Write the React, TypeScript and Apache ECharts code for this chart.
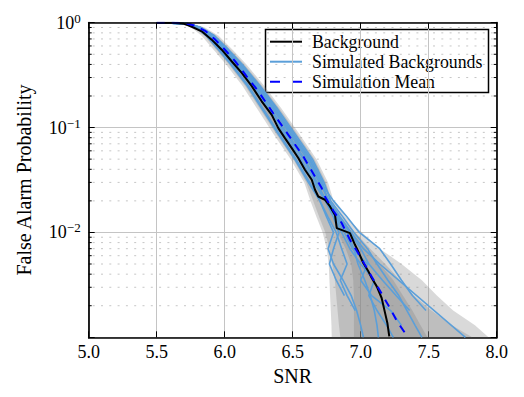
import React, { useEffect, useRef } from "react";
import * as echarts from "echarts";

const SERIF = "'Liberation Serif', 'DejaVu Serif', serif";

// Observed background: false alarm probability vs SNR threshold
const backgroundCurve: [number, number][] = [
  [5.5, 1.0], [5.62, 1.0], [5.7, 0.975], [5.732, 0.944], [5.77, 0.9], [5.831, 0.828],
  [5.904, 0.689], [5.978, 0.553], [6.051, 0.429], [6.125, 0.332], [6.199, 0.248],
  [6.272, 0.178], [6.346, 0.132], [6.394, 0.0987], [6.443, 0.0793], [6.493, 0.0637],
  [6.541, 0.0512], [6.59, 0.0396], [6.64, 0.0318], [6.664, 0.0255], [6.688, 0.022],
  [6.737, 0.0205], [6.774, 0.0177], [6.811, 0.0147], [6.824, 0.011], [6.921, 0.00986],
  [6.958, 0.00762], [6.982, 0.00659], [7.019, 0.00511], [7.056, 0.00426], [7.081, 0.00368],
  [7.118, 0.00306], [7.154, 0.00237], [7.179, 0.00171], [7.196, 0.00137], [7.21, 0.00102],
];

// Mean of the simulated backgrounds
const simulationMean: [number, number][] = [
  [5.5, 1.0], [5.65, 1.0], [5.72, 0.98], [5.78, 0.94], [5.86, 0.83], [5.93, 0.69],
  [6.0, 0.555], [6.076, 0.43], [6.16, 0.31], [6.247, 0.222], [6.357, 0.137],
  [6.468, 0.0853], [6.578, 0.053], [6.664, 0.0341], [6.713, 0.0265], [6.737, 0.022],
  [6.8, 0.016], [6.86, 0.0123], [6.921, 0.0085], [6.98, 0.0064], [7.032, 0.0049],
  [7.08, 0.0038], [7.13, 0.00295], [7.215, 0.0019], [7.27, 0.0014], [7.326, 0.0011],
];

// Probability levels at which each simulated background is sampled
const simLevels = [
  1, 0.98, 0.9, 0.75, 0.55, 0.4, 0.25, 0.15, 0.09, 0.05, 0.03,
  0.02, 0.014, 0.01, 0.007, 0.005, 0.0035, 0.0025, 0.0018, 0.0013, 0.001,
];

// SNR of each simulated background at simLevels (null: no events that far down)
const sim1 = [5.5, 5.705, 5.79, 5.865, 5.955, 6.045, 6.165, 6.275, 6.385, 6.515, 6.615, 6.7, 6.75, 6.8, 6.76, 6.8, 6.87, 6.93, 6.97, 7.0, 7.02];
const sim2 = [5.5, 5.715, 5.8, 5.89, 5.985, 6.08, 6.2, 6.315, 6.43, 6.56, 6.655, 6.74, 6.8, 6.84, 6.8, 6.77, 6.82, 6.88, null, null, null];
const sim3 = [5.5, 5.726, 5.82, 5.915, 6.02, 6.115, 6.245, 6.37, 6.49, 6.625, 6.71, 6.76, 6.83, 6.9, 6.95, 6.98, 7.03, 7.07, 7.1, 7.12, 7.13];
const sim4 = [5.5, 5.718, 5.807, 5.895, 5.994, 6.088, 6.212, 6.33, 6.444, 6.579, 6.67, 6.75, 6.81, 6.86, 6.92, 7.0, 7.1, 7.06, 7.12, 7.19, 7.24];
const sim5 = [5.5, 5.73, 5.825, 5.925, 6.03, 6.13, 6.26, 6.39, 6.51, 6.645, 6.73, 6.78, 6.87, 6.95, 7.05, 7.12, 7.2, 7.28, 7.34, 7.4, 7.45];
const sim6 = [5.5, 5.723, 5.815, 5.908, 6.01, 6.105, 6.232, 6.355, 6.472, 6.607, 6.695, 6.77, 6.85, 6.93, 7.02, 7.14, null, null, null, null, 7.77];
const sim7 = [5.5, 5.728, 5.822, 5.92, 6.024, 6.123, 6.252, 6.38, 6.499, 6.634, 6.72, 6.76, 6.84, 6.92, 7.0, 7.06, 7.16, 7.26, 7.36, null, null];
const sim8 = [5.5, 5.72, 5.81, 5.9, 6.0, 6.095, 6.22, 6.34, 6.455, 6.59, 6.68, 6.74, 6.82, 6.88, 6.94, 7.05, 7.0, 7.08, 7.22, 7.3, null];
const sim9 = [5.5, 5.725, 5.818, 5.91, 6.015, 6.11, 6.24, 6.365, 6.48, 6.62, 6.705, 6.8, 6.9, 6.99, 7.14, 7.22, 7.3, 7.38, 7.48, null, null];
const sim10 = [5.5, 5.71, 5.795, 5.875, 5.965, 6.055, 6.175, 6.285, 6.395, 6.525, 6.625, 6.7, 6.76, 6.82, 6.86, 6.9, 6.85, 6.9, 6.96, null, null];
const simulatedBackgrounds = [sim1, sim2, sim3, sim4, sim5, sim6, sim7, sim8, sim9, sim10];

// Spread of the simulations: left/right SNR edges of three nested bands at simLevels
const outerLeft = [5.5, 5.675, 5.755, 5.83, 5.92, 6.01, 6.13, 6.24, 6.35, 6.485, 6.585, 6.63, 6.675, 6.72, 6.75, 6.765, 6.77, 6.775, 6.78, 6.785, 6.787];
const outerRight = [5.62, 5.76, 5.855, 5.955, 6.06, 6.16, 6.29, 6.42, 6.54, 6.675, 6.76, 6.8, 6.89, 7.01, 7.14, 7.3, 7.45, 7.56, 7.68, 7.84, 7.94];
const middleLeft = [5.5, 5.69, 5.772, 5.85, 5.94, 6.03, 6.15, 6.26, 6.37, 6.505, 6.6, 6.65, 6.695, 6.74, 6.77, 6.79, 6.81, 6.82, 6.83, 6.84, 6.85];
const middleRight = [5.6, 5.745, 5.84, 5.94, 6.045, 6.145, 6.275, 6.405, 6.525, 6.66, 6.745, 6.785, 6.86, 6.96, 7.07, 7.18, 7.29, 7.39, 7.52, 7.67, 7.82];
const innerLeft = [5.5, 5.705, 5.79, 5.87, 5.965, 6.055, 6.175, 6.29, 6.4, 6.535, 6.63, 6.7, 6.76, 6.83, 6.89, 6.93, 6.945, 6.95, 6.95, 6.95, 6.95];
const innerRight = [5.58, 5.731, 5.824, 5.92, 6.023, 6.121, 6.249, 6.375, 6.493, 6.628, 6.715, 6.77, 6.85, 6.94, 7.04, 7.14, 7.24, 7.31, 7.38, 7.44, 7.49];

// Minor log ticks (2..9 per decade)
const minorLevels = [
  0.002, 0.003, 0.004, 0.005, 0.006, 0.007, 0.008, 0.009,
  0.02, 0.03, 0.04, 0.05, 0.06, 0.07, 0.08, 0.09,
  0.2, 0.3, 0.4, 0.5, 0.6, 0.7, 0.8, 0.9,
];

const legendLabels = ["Background", "Simulated Backgrounds", "Simulation Mean"];

const SIM_BLUE = "#5b9fd9";
const MEAN_BLUE = "#0000ff";
const BAND_FILL = "rgba(128,128,128,0.3)";

function toPairs(xs: (number | null)[]): [number, number][] {
  const out: [number, number][] = [];
  xs.forEach((x, i) => {
    if (x !== null) out.push([x, simLevels[i]]);
  });
  return out;
}

function bandSeries(left: number[], right: number[]) {
  return {
    type: "custom",
    silent: true,
    z: 2,
    data: [[5, 1]],
    renderItem: (_params: any, api: any) => {
      const pts: number[][] = [];
      simLevels.forEach((p, i) => pts.push(api.coord([left[i], p])));
      for (let i = simLevels.length - 1; i >= 0; i--) pts.push(api.coord([right[i], simLevels[i]]));
      return { type: "polygon", shape: { points: pts }, style: { fill: BAND_FILL } };
    },
  };
}

export default function App() {
  const ref = useRef<HTMLDivElement>(null);

  useEffect(() => {
    if (!ref.current) return;
    const chart = echarts.init(ref.current, undefined, { renderer: "svg" });

    const spine = { show: true, onZero: false, lineStyle: { color: "#000", width: 1.7 } };
    const majorTick = { show: true, inside: true, length: 6, lineStyle: { color: "#000", width: 1 } };

    const option: any = {
      animation: false,
      backgroundColor: "#ffffff",
      textStyle: { fontFamily: SERIF },
      grid: { left: 88.7, right: 27.3, top: 22.7, bottom: 59.7 },
      xAxis: [
        {
          type: "value",
          min: 5,
          max: 8,
          interval: 0.5,
          position: "bottom",
          axisLine: spine,
          axisTick: majorTick,
          axisLabel: {
            formatter: (v: number) => v.toFixed(1),
            fontSize: 18,
            fontFamily: SERIF,
            color: "#000",
            margin: 6,
          },
          splitLine: { show: true, lineStyle: { color: "#c4c4c4", width: 1 } },
          name: "SNR",
          nameLocation: "middle",
          nameGap: 27,
          nameTextStyle: { fontSize: 20, fontFamily: SERIF, color: "#000" },
        },
        {
          type: "value",
          min: 5,
          max: 8,
          interval: 0.5,
          position: "top",
          z: 10,
          axisLine: spine,
          axisTick: majorTick,
          axisLabel: { show: false },
          splitLine: { show: false },
        },
      ],
      yAxis: [
        {
          type: "log",
          logBase: 10,
          min: 0.001,
          max: 1,
          position: "left",
          axisLine: spine,
          axisTick: majorTick,
          axisLabel: {
            margin: 8,
            fontFamily: SERIF,
            formatter: (v: number) => {
              const e = Math.round(Math.log10(v));
              if (e < -2) return "";
              return `{b|10}{s|${e === 0 ? "0" : "\u2212" + -e}}`;
            },
            rich: {
              b: { fontSize: 18, fontFamily: SERIF, color: "#000", lineHeight: 22 },
              s: { fontSize: 13, fontFamily: SERIF, color: "#000", verticalAlign: "top" },
            },
          },
          splitLine: { show: true, lineStyle: { color: "#c4c4c4", width: 1 } },
          name: "False Alarm Probability",
          nameLocation: "middle",
          nameGap: 55,
          nameTextStyle: { fontSize: 20, fontFamily: SERIF, color: "#000" },
        },
        {
          type: "log",
          logBase: 10,
          min: 0.001,
          max: 1,
          position: "right",
          z: 10,
          axisLine: spine,
          axisTick: majorTick,
          axisLabel: { show: false },
          splitLine: { show: false },
        },
      ],
      series: [
        {
          // dotted minor grid with inward minor ticks on both sides
          type: "custom",
          silent: true,
          z: 1,
          clip: false,
          data: minorLevels.map((v) => [5, v]),
          renderItem: (_params: any, api: any) => {
            const v = api.value(1);
            const a = api.coord([5, v]);
            const b = api.coord([8, v]);
            return {
              type: "group",
              children: [
                {
                  type: "line",
                  shape: { x1: a[0] + 4, y1: a[1], x2: b[0] - 4, y2: b[1] },
                  style: { stroke: "#c6c6c6", lineWidth: 1, lineDash: [2, 6.3] },
                },
                {
                  type: "line",
                  shape: { x1: a[0], y1: a[1], x2: a[0] + 3, y2: a[1] },
                  style: { stroke: "#000", lineWidth: 1 },
                },
                {
                  type: "line",
                  shape: { x1: b[0] - 3, y1: b[1], x2: b[0], y2: b[1] },
                  style: { stroke: "#000", lineWidth: 1 },
                },
              ],
            };
          },
        },
        bandSeries(outerLeft, outerRight),
        bandSeries(middleLeft, middleRight),
        bandSeries(innerLeft, innerRight),
        ...simulatedBackgrounds.map((s) => ({
          type: "line",
          name: legendLabels[1],
          data: toPairs(s),
          showSymbol: false,
          symbol: "none",
          z: 3,
          lineStyle: { color: SIM_BLUE, width: 1.6 },
        })),
        {
          type: "line",
          name: legendLabels[0],
          data: backgroundCurve,
          showSymbol: false,
          symbol: "none",
          z: 4,
          lineStyle: { color: "#000", width: 2 },
        },
        {
          type: "line",
          name: legendLabels[2],
          data: simulationMean,
          showSymbol: false,
          symbol: "none",
          z: 5,
          lineStyle: { color: MEAN_BLUE, width: 2, type: [8, 7] },
        },
      ],
      graphic: [
        {
          type: "group",
          z: 100,
          children: [
            {
              type: "rect",
              shape: { x: 265.5, y: 29.5, width: 223, height: 63 },
              style: { fill: "#fff", stroke: "#000", lineWidth: 1.5 },
            },
            {
              type: "line",
              shape: { x1: 270, y1: 41.7, x2: 302, y2: 41.7 },
              style: { stroke: "#000", lineWidth: 2 },
            },
            {
              type: "line",
              shape: { x1: 270, y1: 61.7, x2: 302, y2: 61.7 },
              style: { stroke: SIM_BLUE, lineWidth: 2 },
            },
            {
              type: "line",
              shape: { x1: 270, y1: 81.7, x2: 302, y2: 81.7 },
              style: { stroke: MEAN_BLUE, lineWidth: 2, lineDash: [10, 12] },
            },
            ...legendLabels.map((t, i) => ({
              type: "text",
              style: {
                text: t,
                x: 312,
                y: 41.5 + 20 * i,
                fontSize: 17.8,
                fontFamily: SERIF,
                fill: "#000",
                verticalAlign: "middle",
                align: "left",
              },
            })),
          ],
        },
      ],
    };

    chart.setOption(option);
    return () => chart.dispose();
  }, []);

  return (
    <div
      ref={ref}
      style={{ position: "absolute", left: 0, top: 0, width: 524, height: 397, background: "#fff" }}
    />
  );
}
